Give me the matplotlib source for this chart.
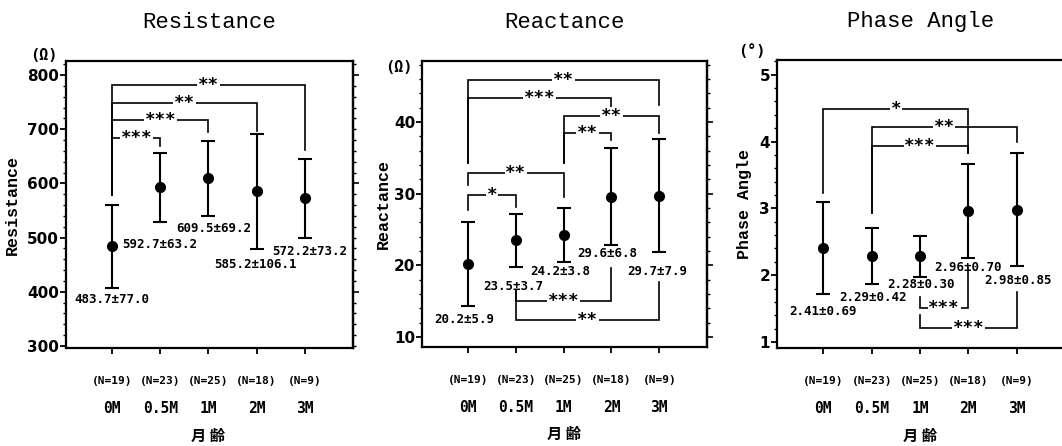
import matplotlib.pyplot as plt
from matplotlib.ticker import MultipleLocator

# --- data ---
categories = ["0M", "0.5M", "1M", "2M", "3M"]
n_labels = ["(N=19)", "(N=23)", "(N=25)", "(N=18)", "(N=9)"]

res_mean = [483.7, 592.7, 609.5, 585.2, 572.2]
res_sd = [77.0, 63.2, 69.2, 106.1, 73.2]
rea_mean = [20.2, 23.5, 24.2, 29.6, 29.7]
rea_sd = [5.9, 3.7, 3.8, 6.8, 7.9]
pha_mean = [2.41, 2.29, 2.28, 2.96, 2.98]
pha_sd = [0.69, 0.42, 0.30, 0.70, 0.85]

# significance brackets: (from, to, stars)
res_sig = [(0, 1, "***"), (0, 2, "***"), (0, 3, "**"), (0, 4, "**")]
rea_sig = [(0, 4, "**"), (0, 3, "***"), (2, 4, "**"), (2, 3, "**"),
           (0, 2, "**"), (0, 1, "*"), (1, 3, "***"), (1, 4, "**")]
pha_sig = [(0, 3, "*"), (1, 4, "**"), (1, 3, "***"), (2, 3, "***"), (2, 4, "***")]

# --- layout of brackets (bar height, left leg end, right leg end) ---
res_brk = [(684, 579, 669), (717, 579, 695), (748, 579, 696), (782, 579, 661)]
rea_brk = [(45.9, 34.3, 42.4), (43.3, 34.3, 42.0), (40.8, 34.3, 38.5),
           (38.5, 34.3, 37.5), (32.9, 31.2, 29.6), (29.8, 27.7, 28.2),
           (15.0, 16.6, 19.6), (12.4, 16.6, 17.7)]
pha_brk = [(4.48, 3.23, 3.83), (4.21, 2.93, 4.0), (3.94, 2.93, 3.83),
           (1.51, 1.68, 2.11), (1.21, 1.41, 1.75)]

# value label anchors (x, y, ha)
res_lab = [(0, 385, "center"), (0.21, 488, "left"), (2.1, 516, "center"),
           (2.98, 450, "center"), (4.1, 475, "center")]
rea_lab = [(-0.08, 12.4, "center"), (0.94, 17.1, "center"), (1.94, 19.1, "center"),
           (2.92, 21.6, "center"), (3.96, 19.2, "center")]
pha_lab = [(0, 1.45, "center"), (1.03, 1.66, "center"), (2.02, 1.86, "center"),
           (2.99, 2.11, "center"), (4.02, 1.92, "center")]

MONO = "DejaVu Sans Mono"
TITLE_FONT = "Liberation Mono"


def bracket(ax, i, j, h, yl, yr, stars):
    ax.plot([i, i, j, j], [yl, h, h, yr], color="black", lw=1.2,
            solid_joinstyle="miter", zorder=2)
    ax.text((i + j) / 2, h, stars, ha="center", va="center", fontsize=12.5,
            fontweight="bold", family=MONO, zorder=3,
            bbox=dict(facecolor="white", edgecolor="none", pad=0.5))


def panel(fig, rect, title, ylabel, unit, mean, sd, ylim, major, minor, rmajor,
          sig, brk, lab, fmt, ylab_x, unit_pos):
    ax = fig.add_axes(rect)
    x = range(len(categories))
    ax.errorbar(x, mean, yerr=sd, fmt="o", color="black", ms=7, lw=1.5,
                capsize=5, capthick=1.5, zorder=4)
    ax.set_xlim(-0.96, 5.0)
    ax.set_ylim(*ylim)

    for (i, j, stars), (h, yl, yr) in zip(sig, brk):
        bracket(ax, i, j, h, yl, yr, stars)

    for m, s, (lx, ly, ha) in zip(mean, sd, lab):
        ax.text(lx, ly, fmt.format(m, s), ha=ha, va="center", fontsize=9,
                fontweight="bold", family=MONO)

    for sp in ax.spines.values():
        sp.set_linewidth(1.6)

    ax.set_xticks(list(x))
    ax.set_xticklabels([])
    ax.tick_params(axis="x", direction="out", length=4, width=1.3)
    ax.yaxis.set_major_locator(MultipleLocator(major))
    ax.yaxis.set_minor_locator(MultipleLocator(minor))
    ax.tick_params(axis="y", which="major", direction="out", length=4, width=1.3,
                   labelsize=11, pad=1)
    ax.tick_params(axis="y", which="minor", direction="out", length=2, width=1)
    for t in ax.get_yticklabels():
        t.set_fontweight("bold")

    # right-hand ticks
    ry = ax.secondary_yaxis("right")
    ry.yaxis.set_major_locator(MultipleLocator(rmajor))
    ry.yaxis.set_minor_locator(MultipleLocator(minor))
    ry.tick_params(which="major", direction="out", length=4, width=1.2)
    ry.tick_params(which="minor", direction="out", length=2, width=1)
    ry.set_yticklabels([])
    ry.spines["right"].set_linewidth(1.6)

    tr = ax.get_xaxis_transform()
    for k, (c, n) in enumerate(zip(categories, n_labels)):
        ax.text(k, -0.115, n, transform=tr, ha="center", va="center",
                fontsize=8, fontweight="bold", family=MONO)
        ax.text(k, -0.21, c, transform=tr, ha="center", va="center",
                fontsize=10.5, fontweight="bold", family=MONO)
    ax.text(2, -0.305, "月 齢", transform=tr, ha="center", va="center",
            fontsize=11, fontweight="bold", family="Noto Sans CJK JP")

    ax.text(0.5, 1.135, title, transform=ax.transAxes, ha="center", va="center",
            fontsize=16, family=TITLE_FONT)
    ax.text(ylab_x, 0.5, ylabel, transform=ax.transAxes, ha="center", va="center",
            rotation=90, fontsize=12, fontweight="bold", family=TITLE_FONT)
    ax.text(unit_pos[0], unit_pos[1], unit, transform=ax.transAxes, ha="center",
            va="center", fontsize=11, fontweight="bold", family=MONO)
    return ax


fig = plt.figure(figsize=(10.62, 4.46), dpi=100)

panel(fig, [0.0621, 0.2197, 0.2702, 0.6435], "Resistance", "Resistance", "(Ω)",
      res_mean, res_sd, (296, 826), 100, 20, 200, res_sig, res_brk, res_lab,
      "{:.1f}±{:.1f}", -0.188, (-0.077, 1.02))
panel(fig, [0.3974, 0.2220, 0.2684, 0.6410], "Reactance", "Reactance", "(Ω)",
      rea_mean, rea_sd, (8.6, 48.5), 10, 2, 10, rea_sig, rea_brk, rea_lab,
      "{:.1f}±{:.1f}", -0.137, (-0.08, 0.979))
panel(fig, [0.7316, 0.2197, 0.2712, 0.6458], "Phase Angle", "Phase Angle", "(°)",
      pha_mean, pha_sd, (0.91, 5.22), 1, 0.2, 1, pha_sig, pha_brk, pha_lab,
      "{:.2f}±{:.2f}", -0.111, (-0.087, 1.03))

fig.savefig("out.png", dpi=100)
